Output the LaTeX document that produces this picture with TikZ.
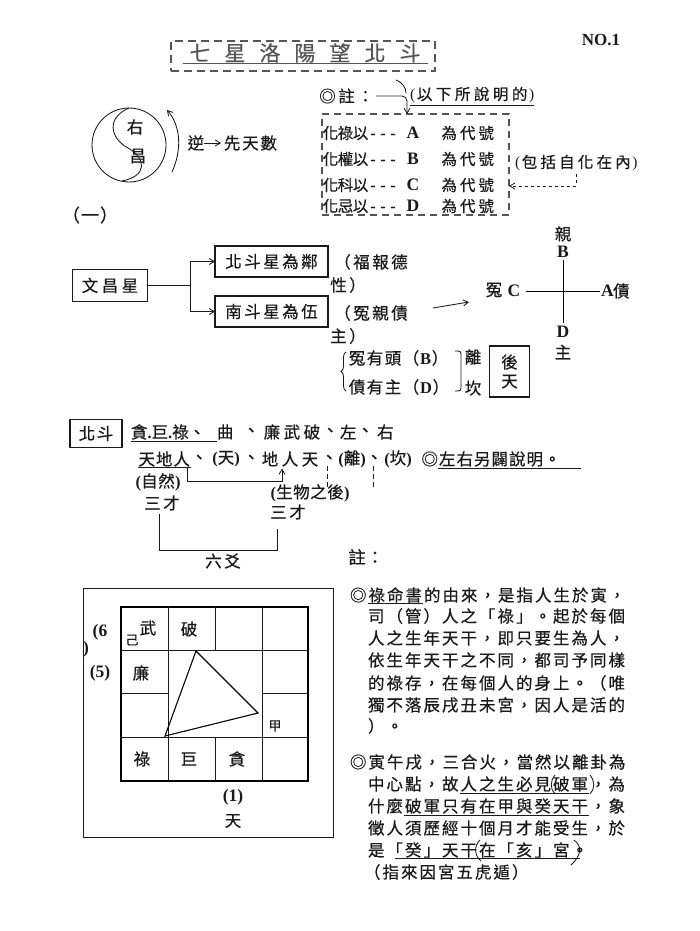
\documentclass[tikz,border=0pt]{standalone}
\usepackage{fontspec}
\setmainfont{Noto Sans CJK TC}[FakeBold=0.5]
\newfontfamily\lat{Liberation Serif}
\usetikzlibrary{arrows.meta,decorations.pathreplacing}
\definecolor{tg}{HTML}{555555}
\definecolor{ink}{HTML}{1A1A1A}
\newcommand\fwx[2][18.5pt]{\def\fwxp{#1}\fwxi#2\fwxend}
\def\fwxend{\fwxend}
\def\fwxi#1{\ifx#1\fwxend\else\makebox[\fwxp][c]{#1}\expandafter\fwxi\fi}
\newcommand\LP{{\lat(}}
\newcommand\RP{{\lat)}}
\newcommand\BLP{{\lat\bfseries(}}
\newcommand\BRP{{\lat\bfseries)}}
\begin{document}
\begin{tikzpicture}[x=1pt,y=-1pt,
  every node/.style={inner sep=0pt,outer sep=0pt,text=ink},
  f16/.style={font=\fontsize{16.5}{18}\selectfont},
  f15/.style={font=\fontsize{15.5}{17}\selectfont},
  f13/.style={font=\fontsize{13}{15}\selectfont},
  lbl/.style={font=\lat\bfseries\fontsize{17.5}{19}\selectfont},
  sbox/.style={draw=ink,line width=1.3pt},
  arr/.style={-{Straight Barb[length=5pt,width=6pt]}},
  ln/.style={draw=ink,line width=0.85pt},
  dbox/.style={draw=tg,dash pattern=on 7pt off 5pt,line width=1.1pt}]
\useasboundingbox (0,0) rectangle (700,931);
\fill[white] (0,0) rectangle (700,931);

% title
\node[dbox, dash pattern=on 8pt off 5pt, minimum width=264, minimum height=30] (tbox) at (303,56) {};
\node[font=\fontsize{21}{22}\selectfont, text=tg] (title) at (305,53) {\fwx[35pt]{七星洛陽望北斗}};
\draw[tg, line width=1pt] ([yshift=-1pt]title.south west) -- ([yshift=-1pt]title.south east);
\node[font=\lat\bfseries\fontsize{17}{19}\selectfont] (no) at (601,40) {NO.1};

% yin-yang
\node[circle, ln, minimum size=74] (yy) at (129,145) {};
\draw[ln] (yy.north) .. controls (106,118) and (110,138) .. (128,148) .. controls (146,158) and (148,176) .. (122,181);
\node[f16] (you) at (135,127) {右};
\node[f16] (chang) at (138,156) {昌};
\draw[ln, arr] (172,172) .. controls (182,150) and (181,126) .. (167,110);
\node[f16] (ni) at (196,143) {逆};
\node[f16, anchor=west] (xts) at (223,143) {\fwx[18.3pt]{先天數}};
\draw[ln, arr] (ni.east) -- ([xshift=-2pt]xts.west);

% notes
\node[f16, anchor=west] (zhu) at (318,96) {\fwx[19pt]{◎註：}};
\node[f15, anchor=west] (yxs) at (410,95) {\LP\fwx[19pt]{以下所說明的}\RP};
\draw[ln] ([yshift=-2pt]yxs.south west) -- ([yshift=-2pt]yxs.south east);
\node[dbox, minimum width=187, minimum height=101] (nb) at (415.5,164.5) {};
\coordinate (jz) at (407,96);
\draw[ln, arr] ([xshift=1pt]zhu.east) -- ([xshift=-5pt]jz) to[out=0,in=90] ([yshift=-5pt]jz) -- (jz |- nb.north);
\draw[ln] (396,80) .. controls (403,83) and (406,88) .. (406,93);

\node[f15, anchor=west] (r1a) at (323,133) {\fwx[15pt]{化祿以}\fwx[10pt]{---}};
\node[lbl] (r1b) at (413,133) {A};
\node[f15, anchor=west] (r1c) at (440,133) {\fwx[18.5pt]{為代號}};
\node[f15, anchor=west] (r2a) at (323,159) {\fwx[15pt]{化權以}\fwx[10pt]{---}};
\node[lbl] (r2b) at (413,159) {B};
\node[f15, anchor=west] (r2c) at (440,159) {\fwx[18.5pt]{為代號}};
\node[f15, anchor=west] (r3a) at (323,185) {\fwx[15pt]{化科以}\fwx[10pt]{---}};
\node[lbl] (r3b) at (413,185) {C};
\node[f15, anchor=west] (r3c) at (440,185) {\fwx[18.5pt]{為代號}};
\node[f15, anchor=west] (r4a) at (323,206) {\fwx[15pt]{化忌以}\fwx[10pt]{---}};
\node[lbl] (r4b) at (413,206) {D};
\node[f15, anchor=west] (r4c) at (440,206) {\fwx[18.5pt]{為代號}};

\node[f15, anchor=west] (bk) at (515,163) {\LP\fwx[18.7pt]{包括自化在內}\RP};
\coordinate (d1) at (0,186);
\draw[ln, dashed, arr] ([yshift=-3pt]bk.south) |- (nb.east |- d1);

% (一)
\node[font=\fontsize{18}{20}\selectfont] (yi) at (90,215) {\fwx[19pt]{（一）}};

% boxes
\node[sbox, f16, minimum width=75, minimum height=32] (wc) at (110,285.5) {\fwx[20pt]{文昌星}};
\node[sbox, f16, minimum width=113, minimum height=31] (bd) at (271.5,261.5) {\fwx[19pt]{北斗星為鄰}};
\node[sbox, f16, minimum width=113, minimum height=31] (nd) at (271.5,311.5) {\fwx[19pt]{南斗星為伍}};
\coordinate (jb) at (190,285.5);
\draw[ln] (wc.east) -- (jb);
\draw[ln, arr] (jb) |- (bd.west);
\draw[ln, arr] (jb) |- (nd.west);
\node[f16, anchor=west] (fb1) at (333,262) {\fwx[19pt]{（福報德}};
\node[f16, anchor=west] (fb2) at (329,285) {\fwx[19pt]{性）}};
\node[f16, anchor=west] (yq1) at (333,313) {\fwx[19pt]{（冤親債}};
\node[f16, anchor=west] (yq2) at (329,336) {\fwx[19pt]{主）}};

% thin arrow and cross
\coordinate (ta1) at (433,308);
\coordinate (ta2) at (469,302);
\draw[ln, arr] (ta1) -- (ta2);
\node[f16] (qin) at (563,234) {親};
\node[lbl] (cB) at (563,252) {B};
\node[lbl] (cD) at (563,332) {D};
\node[f16] (czh) at (563,352) {主};
\node[lbl] (cC) at (514,291) {C};
\node[f16] (cyu) at (494,290) {冤};
\node[lbl, anchor=west] (cA) at (601,291) {A};
\node[f16, anchor=west] (czhai) at (613,291) {債};
\draw[line width=1pt] ([yshift=-2pt]cB.south) -- ([yshift=3pt]cD.north);
\draw[line width=1pt] ([xshift=6pt]cC.east) -- ([xshift=-1pt]cA.west);

% brace block
\draw[ln, decorate, decoration={brace, amplitude=5pt}] (346,391) -- (346,352);
\node[f16, anchor=west] (yt) at (348,358) {\fwx[18pt]{冤有頭（}{\lat\bfseries B}\fwx[18pt]{）}};
\node[f16, anchor=west] (zt) at (348,387) {\fwx[18pt]{債有主（}{\lat\bfseries D}\fwx[18pt]{）}};
\draw[ln] (455,351) .. controls (461,351) .. (461,357) -- (461,385) .. controls (461,391) .. (455,391);
\node[f16] (li) at (473,357) {離};
\node[f16] (kan) at (473,388) {坎};
\node[sbox, minimum width=40, minimum height=51, align=center, font=\fontsize{16.5}{19}\selectfont] (ht) at (509.5,371.5) {後\\天};

% 北斗 section
\node[sbox, f16, minimum width=52, minimum height=28] (bdx) at (96,433.5) {\fwx[18pt]{北斗}};
\node[f16, anchor=west] (l1a) at (131,432) {貪{\lat\bfseries.}巨{\lat\bfseries.}祿、};
\node[f16, anchor=west] (l1b) at (217,432) {曲};
\node[f16, anchor=west] (l1c) at (243,432) {、};
\node[f16, anchor=west] (l1d) at (262,432) {\fwx[20pt]{廉武破}};
\node[f16, anchor=west] (l1e) at (322,432) {、};
\node[f16, anchor=west] (l1f) at (340,432) {左};
\node[f16, anchor=west] (l1g) at (357,432) {、};
\node[f16, anchor=west] (l1h) at (377,432) {右};
\draw[ln] ([yshift=-2pt]l1a.south west) -- ([yshift=-2pt]l1a.south west -| l1b.west);

\node[f16, anchor=west] (l2a) at (138,459) {\fwx[17.5pt]{天地人}};
\draw[ln] ([yshift=-1pt]l2a.south west) -- ([yshift=-1pt]l2a.south east);
\node[f16, anchor=west] (l2b) at (191,459) {、};
\node[f16] (l2c) at (226,459) {\BLP 天\BRP};
\node[f16, anchor=west] (l2d) at (243,459) {、};
\node[f16, anchor=west] (l2e) at (260,459) {\fwx[20pt]{地人天}};
\node[f16, anchor=west] (l2f) at (321,459) {、};
\node[f16] (l2g) at (352,459) {\BLP 離\BRP};
\node[f16, anchor=west] (l2h) at (366,459) {、};
\node[f16] (l2i) at (398,459) {\BLP 坎\BRP};
\node[f16, anchor=west] (l2j) at (421,459) {\fwx[17.5pt]{◎左右另闢說明。}};
\draw[ln] ([xshift=17pt,yshift=-2pt]l2j.south west) -- ([xshift=20pt,yshift=-2pt]l2j.south east);
\draw[ln, dash pattern=on 5pt off 3pt] (327,466) -- (327,490);
\draw[ln, dash pattern=on 5pt off 3pt] (373,466) -- (373,490);

\node[f16] (zr) at (158,482) {\BLP\fwx[17pt]{自然}\BRP};
\draw[ln, arr] ([xshift=-3pt]l2a.south east) -- ++(0,15) -| ([xshift=-8pt,yshift=-2pt]l2e.south);
\node[f16] (sw) at (310,493) {\BLP\fwx[17pt]{生物之後}\BRP};
\node[f16] (sc1) at (162,503) {\fwx[19pt]{三才}};
\node[f16] (sc2) at (288,512) {\fwx[19pt]{三才}};
\coordinate (bl) at (159,550);
\coordinate (br) at (277,550);
\draw[ln] ([xshift=-3pt,yshift=-4pt]sc1.south) -- (bl) -- (br) -- ([xshift=-11pt,yshift=-10pt]sc2.south);
\node[f16] (ly) at (223,561) {\fwx[19pt]{六爻}};
\node[font=\fontsize{17.5}{19}\selectfont] (zhu3) at (366,557) {\fwx[18pt]{註：}};

% chart
\draw[ln] (83,588) rectangle (333,837);
\draw[line width=1.7pt] (121,607) rectangle (308,781);
\draw[ln] (121,650) -- (308,650) (121,737) -- (308,737) (121,693) -- (168,693) (262,693) -- (308,693)
  (168,607) -- (168,781) (262,607) -- (262,781) (215,607) -- (215,650) (215,737) -- (215,781);
\draw[line width=1.1pt] (196,651) -- (258,713) -- (165,736) -- cycle;
\node[f16] (g1) at (148,628) {武};
\node[f13] (g2) at (132,640) {己};
\node[f16] (g3) at (189,629) {破};
\node[f16] (g4) at (141,673) {廉};
\node[f13] (g5) at (275,726) {甲};
\node[f16] (g6) at (142,759) {祿};
\node[f16] (g7) at (189,759) {巨};
\node[f16] (g8) at (237,759) {貪};
\node[lbl] (g9) at (233,797) {(1)};
\node[f16] (g10) at (233,821) {天};
\node[lbl] (g11) at (100,632) {(6};
\node[lbl] (g12) at (86,649) {)};
\node[lbl] (g13) at (100,673) {(5)};

% right text
\node[f16, anchor=west] (t1) at (349,595) {\fwx{◎祿命書的由來，是指人生於寅，}};
\node[f16, anchor=west] (t2) at (367,616) {\fwx{司（管）人之「祿」。起於每個}};
\node[f16, anchor=west] (t3) at (367,638) {\fwx{人之生年天干，即只要生為人，}};
\node[f16, anchor=west] (t4) at (367,660) {\fwx{依生年天干之不同，都司予同樣}};
\node[f16, anchor=west] (t5) at (367,683) {\fwx{的祿存，在每個人的身上。（唯}};
\node[f16, anchor=west] (t6) at (367,705) {\fwx{獨不落辰戌丑未宮，因人是活的}};
\node[f16, anchor=west] (t7) at (367,726) {\fwx{）。}};
\node[f16, anchor=west] (t8) at (349,762) {\fwx{◎寅午戌，三合火，當然以離卦為}};
\node[f16, anchor=west] (t9) at (367,784) {\fwx{中心點，故人之生必見破軍，為}};
\node[f16, anchor=west] (t10) at (367,806) {\fwx{什麼破軍只有在甲與癸天干，象}};
\node[f16, anchor=west] (t11) at (367,828) {\fwx{徵人須歷經十個月才能受生，於}};
\node[f16, anchor=west] (t12) at (367,850) {\fwx{是「癸」天干在「亥」宮。}};
\node[f16, anchor=west] (t13) at (363,872) {\fwx{（指來因宮五虎遁）}};
\draw[ln] ([xshift=18.5pt,yshift=-1pt]t1.south west) -- ([xshift=74pt,yshift=-1pt]t1.south west);
\draw[ln] ([xshift=92.5pt,yshift=-2pt]t9.south west) -- ([xshift=222pt,yshift=-2pt]t9.south west);
\draw[ln] ([xshift=37pt,yshift=-2pt]t10.south west) -- ([xshift=222pt,yshift=-2pt]t10.south west);
\draw[ln] ([xshift=28pt,yshift=-1pt]t12.south west) -- ([xshift=213pt,yshift=-1pt]t12.south west);
\draw[ln] (555,775) .. controls (550,781) and (550,789) .. (555,794);
\draw[ln] (590,775) .. controls (595,781) and (595,789) .. (590,794);
\draw[ln] (480,840) .. controls (474,846) and (474,855) .. (481,861);
\draw[ln] (574,840) .. controls (582,846) and (582,855) .. (571,865);
\end{tikzpicture}
\end{document}
